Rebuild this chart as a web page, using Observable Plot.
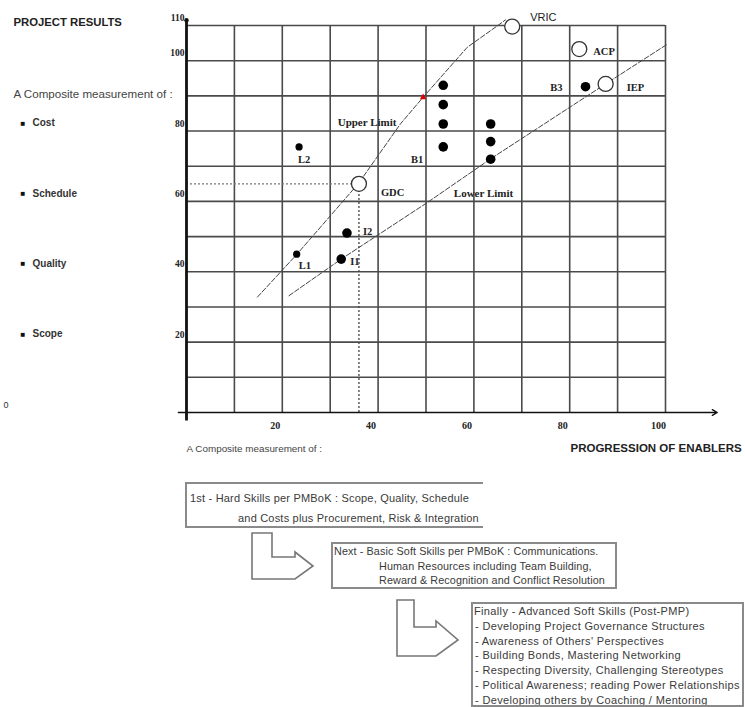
<!DOCTYPE html>
<html><head><meta charset="utf-8">
<script src="https://cdn.jsdelivr.net/npm/d3@7"></script>
<script src="https://cdn.jsdelivr.net/npm/@observablehq/plot@0.6"></script>
<style>
body{margin:0;background:#fff;}
#wrap{position:relative;width:745px;height:707px;overflow:hidden;font-family:"Liberation Sans",Arial,sans-serif;}
#wrap svg{position:absolute;left:0;top:0;}
.box{position:absolute;border:2px solid #8a8a8a;box-sizing:border-box;color:#3a3a3a;white-space:nowrap;overflow:hidden;background:#fff;}
.box div{white-space:nowrap;}
</style></head><body><div id="wrap"></div>
<script>
// ---------- data ----------
const xGrid = [10, 20, 30, 40, 50, 60, 70, 80, 90, 100];
const yGrid = [10, 20, 30, 40, 50, 60, 70, 80, 90, 100, 110];
const yTickLabels = [110, 100, 80, 60, 40, 20];
const xTickLabels = [20, 40, 60, 80, 100];

const resultItems = ["Cost", "Schedule", "Quality", "Scope"];
const resultLevels = [80, 60, 40, 20];

// filled points (enablers vs results)
const solidLabel = ["L2", "", "", "", "B1", "", "", "", "B3", "L1", "I2", "I1"];
const solidX = [23.5, 53.6, 53.6, 53.6, 53.6, 63.5, 63.5, 63.5, 83.3, 23.0, 33.5, 32.3];
const solidY = [75.5, 93.0, 87.5, 82.0, 75.5, 82.0, 77.0, 72.0, 92.6, 45.0, 51.0, 43.6];
const smallDots = ["L1", "L2"];

// open circles
const openLabel = ["VRIC", "ACP", "IEP", "GDC"];
const openX = [68.0, 82.0, 87.5, 36.0];
const openY = [109.7, 103.3, 93.4, 65.0];

// limit lines
const upperX = [14.8, 23.0, 35.9, 44.7, 49.4, 58.6, 64.9, 66.6];
const upperY = [32.8, 44.9, 65.1, 82.1, 89.6, 103.8, 109.9, 111.6];
const lowerX = [21.4, 32.3, 39.8, 50.3, 63.5, 79.5, 87.5, 100.4];
const lowerY = [33.2, 43.6, 50.3, 59.7, 72.1, 86.3, 93.4, 104.7];
const limitLabel = ["Upper Limit", "Lower Limit"];
const limitX = [37.7, 62.0];
const limitY = [82.4, 62.2];

// red marker on upper limit
const redX = [49.4];
const redY = [89.6];

// bottom boxes text
const box1Lines = ["1st - Hard Skills per PMBoK :  Scope, Quality, Schedule", "and Costs plus Procurement, Risk & Integration"];
const box2Lines = ["Next - Basic Soft Skills per PMBoK : Communications.", "Human Resources including Team Building,", "Reward & Recognition and Conflict Resolution"];
const box3Lines = ["Finally - Advanced Soft Skills (Post-PMP)", "- Developing Project Governance Structures", "- Awareness of Others' Perspectives", "- Building Bonds, Mastering Networking", "- Respecting Diversity, Challenging Stereotypes", "- Political Awareness; reading Power Relationships", "- Developing others by Coaching / Mentoring"];

// ---------- tables ----------
const solid = solidX.map((x, i) => ({x, y: solidY[i], label: solidLabel[i]}));
const solidBig = solid.filter(d => !smallDots.includes(d.label));
const solidSmall = solid.filter(d => smallDots.includes(d.label));
const open = openX.map((x, i) => ({x, y: openY[i], label: openLabel[i]}));
const upper = upperX.map((x, i) => ({x, y: upperY[i]}));
const lower = lowerX.map((x, i) => ({x, y: lowerY[i]}));
const limits = limitX.map((x, i) => ({x, y: limitY[i], label: limitLabel[i]}));
const red = redX.map((x, i) => ({x, y: redY[i]}));
const gdc = open.find(d => d.label === "GDC");

const serif = "'Liberation Serif', 'Times New Roman', serif";
const sans = "'Liberation Sans', Arial, sans-serif";

// label placement (style)
const labelStyle = {
  L2: {dx: -1, dy: 13, anchor: "start"},
  B1: {dx: -20, dy: 13, anchor: "end"},
  B3: {dx: -23, dy: 1, anchor: "end"},
  L1: {dx: 2, dy: 11, anchor: "start"},
  I2: {dx: 16, dy: -1, anchor: "start"},
  I1: {dx: 9, dy: 3, anchor: "start"},
  VRIC: {dx: 18, dy: -9, anchor: "start", font: sans, weight: "normal", size: 11},
  ACP: {dx: 14, dy: 3, anchor: "start"},
  IEP: {dx: 21, dy: 4, anchor: "start"},
  GDC: {dx: 22, dy: 9, anchor: "start"}
};
const allPts = [...solid, ...open].filter(d => d.label);
const labelMarks = allPts.map(d => {
  const s = labelStyle[d.label];
  return Plot.text([d], {x: "x", y: "y", text: "label", dx: s.dx, dy: s.dy, textAnchor: s.anchor,
    fontFamily: s.font || serif, fontWeight: s.weight || "bold", fontSize: s.size || 10.5, fill: "#222"});
});

const chart = Plot.plot({
  width: 745, height: 707,
  marginLeft: 186, marginRight: 80, marginTop: 25, marginBottom: 295,
  x: {domain: [0, 100], axis: null},
  y: {domain: [0, 110], axis: null},
  style: {background: "transparent", fontFamily: serif, overflow: "visible"},
  marks: [
    Plot.ruleX(xGrid, {y1: 0, y2: 110, stroke: "#4a4a4a", strokeWidth: 1.6}),
    Plot.ruleY(yGrid, {x1: 0, x2: 100, stroke: "#4a4a4a", strokeWidth: 1.6}),
    // dotted guides to GDC
    Plot.ruleY([gdc], {y: "y", x1: 0, x2: "x", stroke: "#777", strokeWidth: 1.3, strokeDasharray: "2,2"}),
    Plot.ruleX([gdc], {x: "x", y1: 0, y2: "y", stroke: "#444", strokeWidth: 1.3, strokeDasharray: "2,2"}),
    // axes
    Plot.arrow([0], {x1: -1.7, x2: 110.8, y1: 0, y2: 0, stroke: "#111", strokeWidth: 1.4, headLength: 6, bend: 0}),
    Plot.ruleX([0], {y1: -2.4, y2: 111.5, stroke: "#111", strokeWidth: 2.8}),
    Plot.dot([0], {x: 0, y: 111.5, r: 2.2, fill: "#111"}),
    // limit lines
    Plot.line(upper, {x: "x", y: "y", stroke: "#444", strokeWidth: 1, strokeDasharray: "5,2"}),
    Plot.line(lower, {x: "x", y: "y", stroke: "#444", strokeWidth: 1, strokeDasharray: "5,2"}),
    Plot.text(limits, {x: "x", y: "y", text: "label", fontFamily: serif, fontWeight: "bold", fontSize: 11, fill: "#222"}),
    Plot.dot(red, {x: "x", y: "y", symbol: "triangle", r: 2.4, fill: "#e00000"}),
    // points
    Plot.dot(solidBig, {x: "x", y: "y", r: 4.8, fill: "#000"}),
    Plot.dot(solidSmall, {x: "x", y: "y", r: 3.6, fill: "#000"}),
    Plot.dot(open, {x: "x", y: "y", r: 7.5, fill: "#fff", stroke: "#333", strokeWidth: 1.3}),
    ...labelMarks,
    // tick labels
    Plot.text(yTickLabels, {y: d => d, text: d => String(d), frameAnchor: "left", textAnchor: "end", dx: -2, dy: -7.5, fontWeight: "bold", fontSize: 9.5, fill: "#222"}),
    Plot.text(xTickLabels, {x: d => d, text: d => String(d), frameAnchor: "bottom", dx: -7, dy: 16, fontWeight: "bold", fontSize: 10, fill: "#222"}),
    // left column
    Plot.text(["PROJECT RESULTS"], {frameAnchor: "top-left", dx: -173, dy: -8, textAnchor: "start", fontFamily: sans, fontWeight: "bold", fontSize: 11.3, fill: "#222"}),
    Plot.text(["A Composite measurement of :"], {frameAnchor: "top-left", dx: -173, dy: 64, textAnchor: "start", fontFamily: sans, fontSize: 11.6, fill: "#444"}),
    Plot.text(resultLevels, {y: d => d, text: () => "■", frameAnchor: "left", dx: -166, dy: -8, fontFamily: sans, fontSize: 8, fill: "#111"}),
    Plot.text(resultItems, {y: (d, i) => resultLevels[i], text: d => d, frameAnchor: "left", dx: -154, dy: -8, textAnchor: "start", fontFamily: sans, fontWeight: "bold", fontSize: 10, fill: "#333"}),
    Plot.text(["0"], {frameAnchor: "bottom-left", dx: -183, dy: -5, fontFamily: sans, fontSize: 9, fill: "#333"}),
    // bottom labels
    Plot.text(["A Composite measurement of :"], {frameAnchor: "bottom-left", dx: 0, dy: 39, textAnchor: "start", fontFamily: sans, fontSize: 9.9, fill: "#444"}),
    Plot.text(["PROGRESSION OF ENABLERS"], {frameAnchor: "bottom-right", dx: -95, dy: 39, textAnchor: "start", fontFamily: sans, fontWeight: "bold", fontSize: 11.5, fill: "#222"})
  ]
});

const wrap = document.getElementById("wrap");
wrap.appendChild(chart);

// flow boxes
function makeBox(lines, o) {
  const b = document.createElement("div");
  b.className = "box";
  Object.assign(b.style, {left: o.left + "px", top: o.top + "px", width: o.width + "px", height: o.height + "px",
    fontSize: o.size + "px", lineHeight: o.lh + "px", paddingTop: o.pt + "px", letterSpacing: o.ls + "px"});
  if (o.noRight) b.style.borderRight = "none";
  lines.forEach((t, i) => {
    const l = document.createElement("div");
    l.textContent = t;
    l.style.paddingLeft = (i === 0 ? o.pl0 : o.pl) + "px";
    b.appendChild(l);
  });
  wrap.appendChild(b);
}
makeBox(box1Lines, {left: 185, top: 482, width: 298, height: 46, size: 11, ls: 0.2, lh: 20, pt: 4, pl0: 3, pl: 51, noRight: true});
makeBox(box2Lines, {left: 331, top: 542, width: 286, height: 47, size: 10.8, ls: 0.1, lh: 14.5, pt: 0, pl0: 1, pl: 46});
makeBox(box3Lines, {left: 471, top: 602, width: 273, height: 105, size: 11, ls: 0.35, lh: 14.8, pt: 0, pl0: 1, pl: 2});

// bent arrows
const arrowSvg = d3.select(wrap).append("svg").attr("width", 745).attr("height", 707).style("pointer-events", "none");
const arrows = [
  "M252,533H272V557H295V552L313,566L295,579H252Z",
  "M397,600H414V627H436V621L458,640L436,656H397Z"
];
arrowSvg.selectAll("path").data(arrows).join("path").attr("d", d => d)
  .attr("fill", "#fff").attr("stroke", "#777").attr("stroke-width", 1.6).attr("stroke-linejoin", "miter");
</script>
</body></html>
